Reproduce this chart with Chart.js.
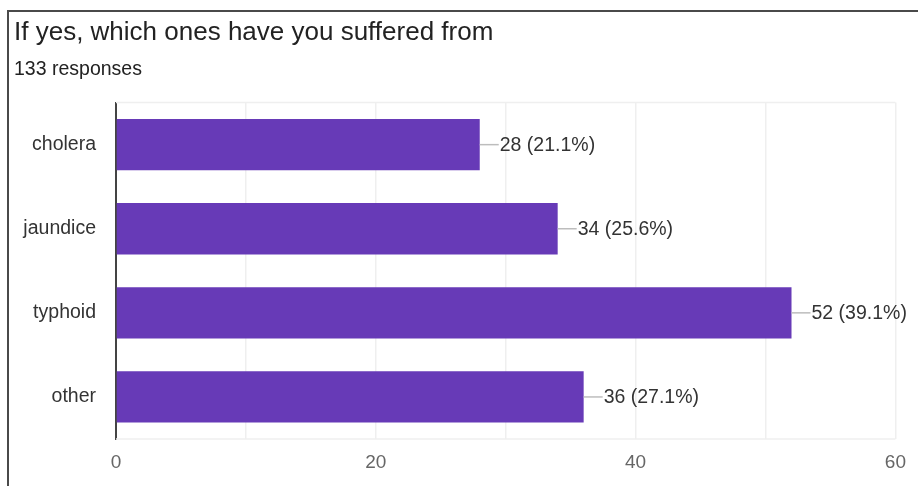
<!DOCTYPE html>
<html>
<head>
<meta charset="utf-8">
<script src="https://cdn.jsdelivr.net/npm/chart.js@4/dist/chart.umd.min.js"></script>
<style>
  html, body { margin: 0; padding: 0; background: #fff; }
  #wrap { position: relative; width: 918px; height: 486px; }
</style>
</head>
<body>
<div id="wrap"><canvas id="c" width="918" height="486"></canvas></div>
<script>
const titleText = "If yes, which ones have you suffered from";
const subtitleText = "133 responses";
const categories = ["cholera", "jaundice", "typhoid", "other"];
const counts = [28, 34, 52, 36];
const percents = ["21.1%", "25.6%", "39.1%", "27.1%"];
const xTickLabels = [0, 20, 40, 60];

const FONT = "'Liberation Sans', Arial, Helvetica, sans-serif";

const framePlugin = {
  id: 'frame',
  afterDraw(chart) {
    const ctx = chart.ctx;
    ctx.save();
    ctx.strokeStyle = '#4a4a4a';
    ctx.lineWidth = 2;
    ctx.beginPath();
    ctx.moveTo(8, 486);
    ctx.lineTo(8, 11);
    ctx.lineTo(918, 11);
    ctx.stroke();
    ctx.restore();
  }
};

const gridBoxPlugin = {
  id: 'gridBox',
  beforeDatasetsDraw(chart) {
    const a = chart.chartArea, ctx = chart.ctx;
    ctx.save();
    ctx.strokeStyle = '#efefef';
    ctx.lineWidth = 1.5;
    ctx.beginPath();
    ctx.moveTo(a.left, a.top);
    ctx.lineTo(a.right, a.top);
    ctx.moveTo(a.left, a.bottom);
    ctx.lineTo(a.right, a.bottom);
    ctx.stroke();
    ctx.restore();
  }
};

const valueLabelPlugin = {
  id: 'valueLabels',
  afterDatasetsDraw(chart) {
    const ctx = chart.ctx;
    const meta = chart.getDatasetMeta(0);
    ctx.save();
    meta.data.forEach((bar, i) => {
      const x = bar.x, y = bar.y;
      ctx.strokeStyle = '#bdbdbd';
      ctx.lineWidth = 1.5;
      ctx.beginPath();
      ctx.moveTo(x, y);
      ctx.lineTo(x + 19, y);
      ctx.stroke();
      ctx.fillStyle = '#333';
      ctx.font = "19.5px " + FONT;
      ctx.textAlign = 'left';
      ctx.textBaseline = 'middle';
      ctx.fillText(counts[i] + " (" + percents[i] + ")", x + 20, y + 1);
    });
    ctx.restore();
  }
};

new Chart(document.getElementById('c'), {
  type: 'bar',
  data: {
    labels: categories,
    datasets: [{
      data: counts,
      backgroundColor: '#673ab7',
      borderWidth: 0,
      barPercentage: 0.61,
      categoryPercentage: 1.0
    }]
  },
  plugins: [gridBoxPlugin, valueLabelPlugin, framePlugin],
  options: {
    indexAxis: 'y',
    responsive: false,
    animation: false,
    devicePixelRatio: 1,
    layout: { padding: { left: 14, right: 20, top: 0, bottom: 0 } },
    plugins: {
      legend: { display: false },
      tooltip: { enabled: false },
      title: {
        display: true,
        text: titleText,
        align: 'start',
        color: '#222',
        font: { family: FONT, size: 26, weight: 'normal' },
        padding: { top: 17, bottom: 4 }
      },
      subtitle: {
        display: true,
        text: subtitleText,
        align: 'start',
        color: '#222',
        font: { family: FONT, size: 19.5, weight: 'normal' },
        padding: { top: 6, bottom: 21 }
      }
    },
    scales: {
      x: {
        min: 0,
        max: 60,
        afterFit(scale) { scale.height = 47; },
        afterBuildTicks(scale) {
          scale.ticks = [0, 10, 20, 30, 40, 50, 60].map(v => ({ value: v }));
        },
        ticks: {
          color: '#666',
          font: { family: FONT, size: 19 },
          padding: 12,
          maxRotation: 0,
          autoSkip: false,
          callback: (v) => xTickLabels.includes(v) ? String(v) : ''
        },
        grid: { color: '#efefef', lineWidth: 1.5, drawTicks: false },
        border: { display: false }
      },
      y: {
        afterFit(scale) { scale.width = 102; },
        ticks: {
          color: '#333',
          font: { family: FONT, size: 19.5 },
          padding: 20
        },
        grid: { display: false, drawTicks: false },
        border: { display: true, color: '#444', width: 2 }
      }
    }
  }
});
</script>
</body>
</html>
